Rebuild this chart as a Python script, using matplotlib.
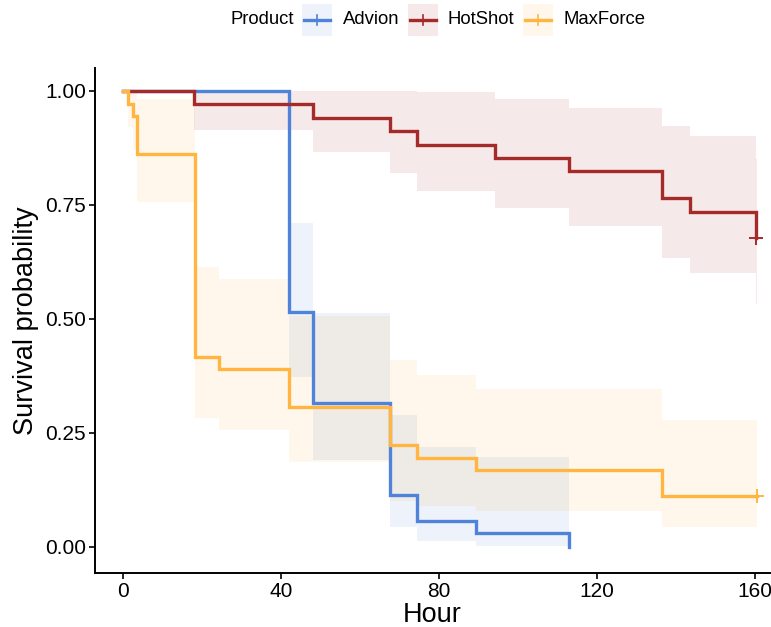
import matplotlib
matplotlib.use("Agg")
import matplotlib.pyplot as plt
from matplotlib.patches import Rectangle
from matplotlib.lines import Line2D

plt.rcParams['font.family'] = ['Liberation Sans', 'DejaVu Sans']

# ---- data ----
groups = ["Advion", "HotShot", "MaxForce"]
colors = ["#4F83D9", "#A52A2A", "#FFB540"]

advion_time = [0, 42, 48, 67.6, 74.5, 89.4, 113]
advion_surv = [1.0, 0.514, 0.314, 0.114, 0.057, 0.029, 0.0]
advion_upper = [1.0, 0.71, 0.513, 0.288, 0.218, 0.196]
advion_lower = [1.0, 0.372, 0.19, 0.044, 0.013, 0.002]

hotshot_time = [0, 18, 48, 67.6, 74.5, 94.2, 112.9, 136.5, 143.5, 160.3]
hotshot_surv = [1.0, 0.971, 0.941, 0.912, 0.882, 0.853, 0.824, 0.765, 0.735, 0.676]
hotshot_upper = [1.0, 1.0, 1.0, 1.0, 0.997, 0.982, 0.962, 0.922, 0.90]
hotshot_lower = [1.0, 0.914, 0.865, 0.82, 0.78, 0.742, 0.704, 0.634, 0.601]
hotshot_last_ci = [0.534, 0.85]

maxforce_time = [0, 1.3, 2.4, 3.5, 18.2, 24.3, 42, 67.6, 74.5, 89.4, 136.5, 160.5]
maxforce_surv = [1.0, 0.972, 0.944, 0.861, 0.417, 0.389, 0.306, 0.222, 0.194, 0.167, 0.111, 0.111]
maxforce_upper = [1.0, 1.0, 1.0, 0.983, 0.614, 0.586, 0.505, 0.409, 0.376, 0.345, 0.278]
maxforce_lower = [1.0, 0.92, 0.87, 0.756, 0.283, 0.256, 0.185, 0.101, 0.09, 0.079, 0.042]

censor_points = {"HotShot": (160.3, 0.676), "MaxForce": (160.5, 0.111)}

x_ticks = [0, 40, 80, 120, 160]
y_ticks = [0.0, 0.25, 0.5, 0.75, 1.0]
y_ticklabels = ["0.00", "0.25", "0.50", "0.75", "1.00"]

series = {
    "Advion": (advion_time, advion_surv, advion_upper, advion_lower),
    "HotShot": (hotshot_time, hotshot_surv, hotshot_upper, hotshot_lower),
    "MaxForce": (maxforce_time, maxforce_surv, maxforce_upper, maxforce_lower),
}

W, H = 771, 627
fig = plt.figure(figsize=(W / 100, H / 100), dpi=100)
ax = fig.add_axes([95 / W, (H - 573) / H, (770 - 95) / W, (573 - 68) / H])

# bands
for g, c in zip(groups, colors):
    t, s, up, lo = series[g]
    ax.fill_between(t, up + [up[-1]], lo + [lo[-1]], step='post',
                    color=c, alpha=0.1, linewidth=0)
ax.plot([hotshot_time[-1]] * 2, hotshot_last_ci, color=colors[1], alpha=0.1, lw=0.8)

# lines
for g, c in zip(groups, colors):
    t, s, up, lo = series[g]
    ax.step(t, s, where='post', color=c, lw=2.4, solid_joinstyle='miter')
    if g in censor_points:
        cx, cy = censor_points[g]
        ax.plot([cx], [cy], marker='+', color=c, markersize=10, markeredgewidth=1.4)

ax.set_xlim(-7.1, 163.8)
ax.set_ylim(-0.058, 1.05)
ax.set_xticks(x_ticks)
ax.set_yticks(y_ticks)
ax.set_yticklabels(y_ticklabels)
for sp in ['top', 'right']:
    ax.spines[sp].set_visible(False)
for sp in ['left', 'bottom']:
    ax.spines[sp].set_linewidth(1.4)
ax.tick_params(axis='both', direction='out', length=4, width=1.2, labelsize=15,
               colors='black', pad=2.5)
ax.set_xlabel("Hour", fontsize=19.5, labelpad=1)
ax.set_ylabel("Survival probability", fontsize=19.5, labelpad=4)

# legend (manual, ggplot-style horizontal)
def fx(px):
    return px / W

def fy(py):
    return 1 - py / H

fig.text(fx(230), fy(20), "Product", fontsize=13.3, va='center', ha='left')
key_x = [302, 407.5, 523]
label_x = [342.5, 447.5, 563.5]
for g, c, kx, lx in zip(groups, colors, key_x, label_x):
    fig.add_artist(Rectangle((fx(kx), fy(36)), 30 / W, 32 / H, transform=fig.transFigure,
                             facecolor=c, alpha=0.1, edgecolor='none'))
    fig.add_artist(Line2D([fx(kx + 2), fx(kx + 28)], [fy(20), fy(20)], transform=fig.transFigure,
                          color=c, lw=2.4))
    fig.add_artist(Line2D([fx(kx + 15), fx(kx + 15)], [fy(15), fy(25)], transform=fig.transFigure,
                          color=c, lw=1.2))
    fig.text(fx(lx), fy(20), g, fontsize=13.3, va='center', ha='left')

fig.savefig("out.png", dpi=100)
